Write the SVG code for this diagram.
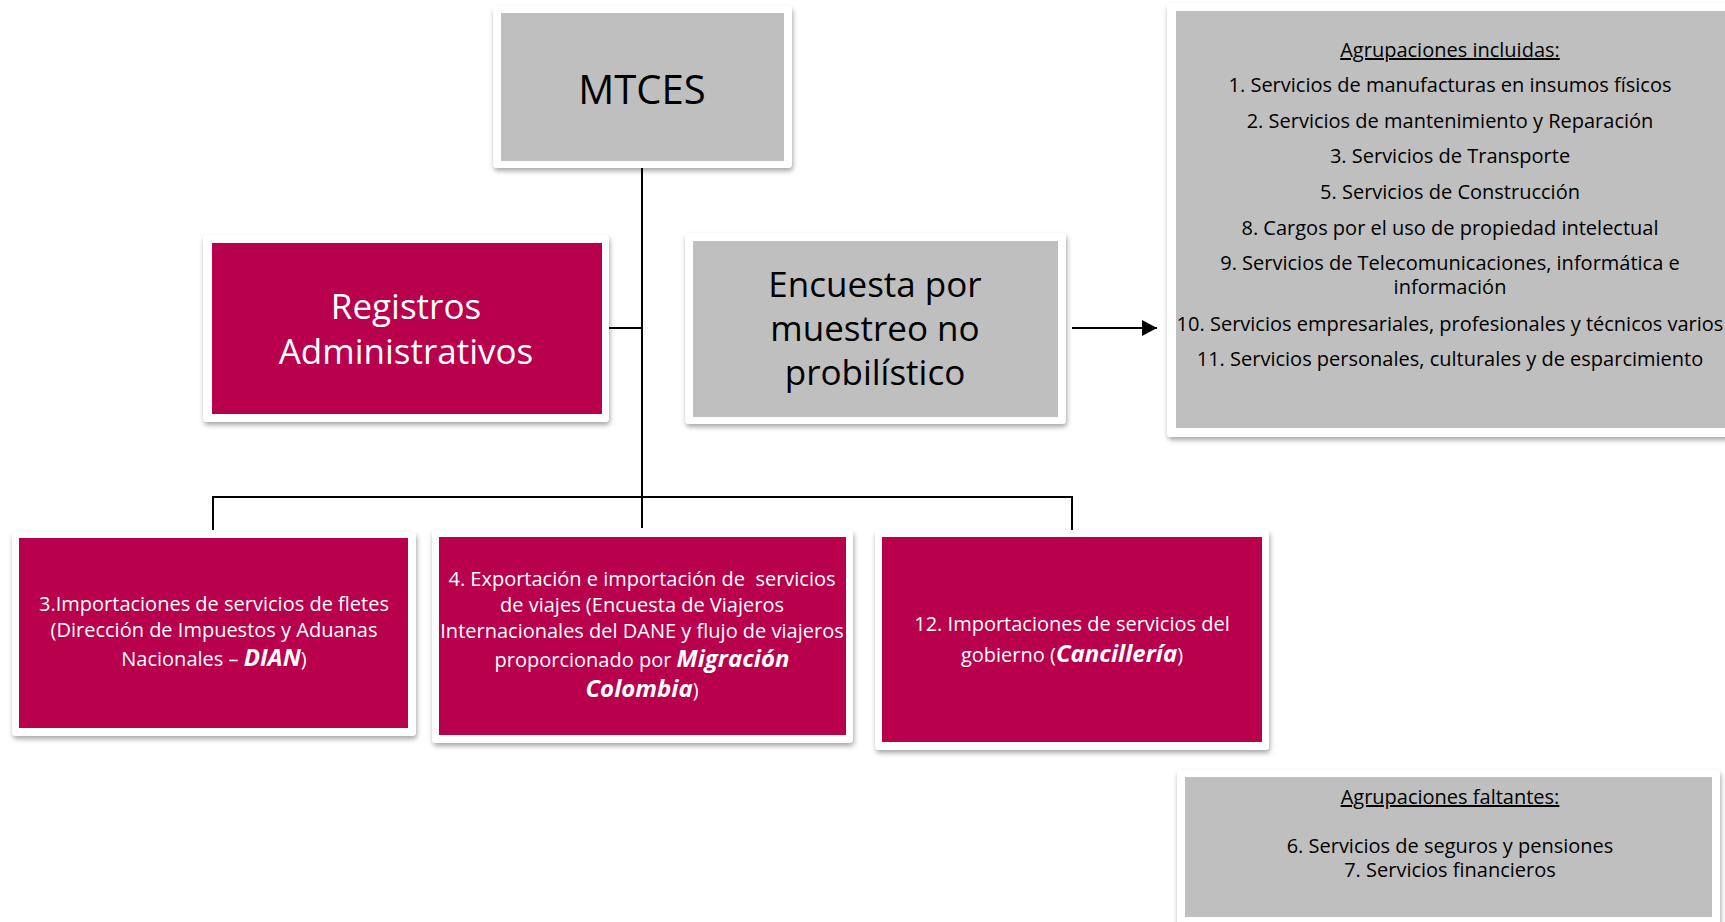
<svg xmlns="http://www.w3.org/2000/svg" width="1725" height="922" viewBox="0 0 1725 922">
<defs>
<filter id="sh" x="-10%" y="-10%" width="120%" height="130%">
<feDropShadow dx="1" dy="3" stdDeviation="2.5" flood-color="#000" flood-opacity="0.35"/>
</filter>
<marker id="arr" markerWidth="15" markerHeight="16" refX="15" refY="8" orient="auto" markerUnits="userSpaceOnUse" viewBox="0 0 15 16">
<path d="M0,0 L15,8 L0,16 z" fill="#000"/>
</marker>
</defs>
<style>
.frame{fill:#fff;filter:url(#sh)}
.gray{fill:#BFBFBF}
.mag{fill:#B8004C}
text{font-family:"Open Sans","Noto Sans","DejaVu Sans",sans-serif;text-anchor:middle}
.big{font-size:35px}
.wt{fill:#fff}
.bk{fill:#000}
.sm{font-size:20px}
.bi{font-weight:bold;font-style:italic;font-size:24px}
.line{stroke:#000;stroke-width:2;fill:none}
</style>
<rect width="1725" height="922" fill="#fff"/>

<g id="connectors">
<path class="line" d="M642,168 V528"/>
<path class="line" d="M609,328 H642"/>
<path class="line" d="M213,530 V497 H1072 V530"/>
<path class="line" d="M1072,328 H1157" marker-end="url(#arr)"/>
</g>

<g id="mtces">
<rect class="frame" x="493" y="6" width="299" height="162" rx="4"/>
<rect class="gray" x="501" y="13" width="283" height="148"/>
<text class="bk" x="642" y="104" font-size="40">MTCES</text>
</g>

<g id="registros">
<rect class="frame" x="203" y="235" width="406" height="187" rx="4"/>
<rect class="mag" x="212" y="243" width="390" height="171"/>
<text class="wt big" x="406" y="319">Registros</text>
<text class="wt big" x="406" y="364">Administrativos</text>
</g>

<g id="encuesta">
<rect class="frame" x="685" y="233" width="381" height="191" rx="4"/>
<rect class="gray" x="693" y="241" width="365" height="176"/>
<text class="bk big" x="875" y="297">Encuesta por</text>
<text class="bk big" x="875" y="341">muestreo no</text>
<text class="bk big" x="875" y="385">probilístico</text>
</g>

<g id="incluidas">
<rect class="frame" x="1167" y="3" width="570" height="434" rx="4"/>
<rect class="gray" x="1176" y="11" width="560" height="417"/>
<text class="bk sm" x="1450" y="57" text-decoration="underline">Agrupaciones incluidas:</text>
<text class="bk sm" x="1450" y="92">1. Servicios de manufacturas en insumos físicos</text>
<text class="bk sm" x="1450" y="128">2. Servicios de mantenimiento y Reparación</text>
<text class="bk sm" x="1450" y="163">3. Servicios de Transporte</text>
<text class="bk sm" x="1450" y="199">5. Servicios de Construcción</text>
<text class="bk sm" x="1450" y="235">8. Cargos por el uso de propiedad intelectual</text>
<text class="bk sm" x="1450" y="270">9. Servicios de Telecomunicaciones, informática e</text>
<text class="bk sm" x="1450" y="294">información</text>
<text class="bk sm" x="1450" y="331">10. Servicios empresariales, profesionales y técnicos varios</text>
<text class="bk sm" x="1450" y="366">11. Servicios personales, culturales y de esparcimiento</text>
</g>

<g id="dian">
<rect class="frame" x="12" y="532" width="404" height="204" rx="4"/>
<rect class="mag" x="19" y="538" width="389" height="190"/>
<text class="wt sm" x="214" y="611">3.Importaciones de servicios de fletes</text>
<text class="wt sm" x="214" y="637">(Dirección de Impuestos y Aduanas</text>
<text class="wt sm" x="214" y="666">Nacionales – <tspan class="bi">DIAN</tspan>)</text>
</g>

<g id="migracion">
<rect class="frame" x="432" y="530" width="421" height="213" rx="4"/>
<rect class="mag" x="439" y="537" width="407" height="198"/>
<text class="wt sm" x="642" y="586" xml:space="preserve">4. Exportación e importación de  servicios</text>
<text class="wt sm" x="642" y="612">de viajes (Encuesta de Viajeros</text>
<text class="wt sm" x="642" y="638">Internacionales del DANE y flujo de viajeros</text>
<text class="wt sm" x="642" y="667">proporcionado por <tspan class="bi">Migración</tspan></text>
<text class="wt sm" x="642" y="697"><tspan class="bi">Colombia</tspan>)</text>
</g>

<g id="cancilleria">
<rect class="frame" x="875" y="530" width="394" height="220" rx="4"/>
<rect class="mag" x="882" y="537" width="380" height="205"/>
<text class="wt sm" x="1072" y="631">12. Importaciones de servicios del</text>
<text class="wt sm" x="1072" y="662">gobierno (<tspan class="bi">Cancillería</tspan>)</text>
</g>

<g id="faltantes">
<rect class="frame" x="1177" y="770" width="543" height="160" rx="4"/>
<rect class="gray" x="1185" y="777" width="527" height="140"/>
<text class="bk sm" x="1450" y="804" text-decoration="underline">Agrupaciones faltantes:</text>
<text class="bk sm" x="1450" y="853">6. Servicios de seguros y pensiones</text>
<text class="bk sm" x="1450" y="877">7. Servicios financieros</text>
</g>
</svg>
